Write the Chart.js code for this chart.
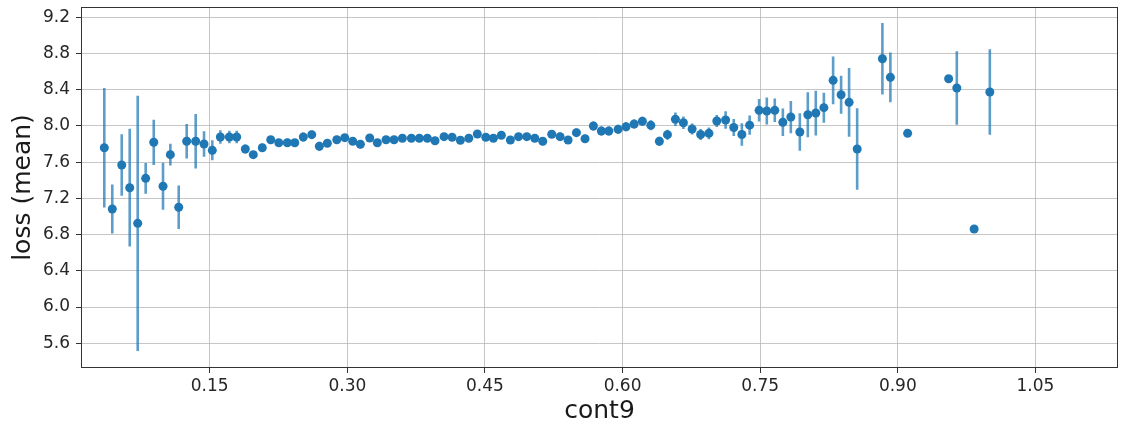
<!DOCTYPE html>
<html>
<head>
<meta charset="utf-8">
<script src="https://cdn.jsdelivr.net/npm/chart.js@4"></script>
<style>
  html, body { margin: 0; padding: 0; background: #fff; }
  #wrap { width: 1124px; height: 431px; }
</style>
</head>
<body>
<div id="wrap"><canvas id="chart" width="1124" height="431"></canvas></div>
<script>
// --- Data ---
const cont9 = [
  0.0351, 0.0438, 0.0541, 0.0628, 0.0715, 0.0802, 0.0890, 0.0991, 0.1071, 0.1162,
  0.1249, 0.1347, 0.1438, 0.1528, 0.1616, 0.1714, 0.1794, 0.1888, 0.1975, 0.2073,
  0.2165, 0.2253, 0.2346, 0.2427, 0.2520, 0.2612, 0.2695, 0.2782, 0.2885, 0.2972,
  0.3059, 0.3142, 0.3244, 0.3327, 0.3422, 0.3509, 0.3600, 0.3698, 0.3785, 0.3872,
  0.3956, 0.4054, 0.4142, 0.4232, 0.4324, 0.4417, 0.4509, 0.4592, 0.4679, 0.4777,
  0.4866, 0.4956, 0.5043, 0.5130, 0.5228, 0.5319, 0.5406, 0.5497, 0.5591, 0.5682,
  0.5769, 0.5850, 0.5951, 0.6038, 0.6126, 0.6216, 0.6308, 0.6401, 0.6489, 0.6576,
  0.6663, 0.6758, 0.6851, 0.6941, 0.7027, 0.7123, 0.7212, 0.7300, 0.7385, 0.7488,
  0.7572, 0.7659, 0.7747, 0.7834, 0.7932, 0.8019, 0.8106, 0.8194, 0.8295, 0.8382,
  0.8469, 0.8557, 0.8832, 0.8919, 0.9107, 0.9554, 0.9643, 0.9832, 1.0003
];
const lossMean = [
  7.760, 7.083, 7.569, 7.318, 6.925, 7.422, 7.820, 7.334, 7.683, 7.102,
  7.831, 7.831, 7.801, 7.731, 7.878, 7.878, 7.878, 7.746, 7.683, 7.760,
  7.848, 7.815, 7.815, 7.815, 7.878, 7.904, 7.776, 7.809, 7.848, 7.871,
  7.831, 7.798, 7.867, 7.815, 7.848, 7.848, 7.864, 7.864, 7.864, 7.864,
  7.837, 7.882, 7.875, 7.842, 7.864, 7.911, 7.875, 7.864, 7.897, 7.845,
  7.882, 7.882, 7.864, 7.831, 7.908, 7.882, 7.845, 7.926, 7.859, 8.000,
  7.944, 7.944, 7.963, 7.992, 8.022, 8.052, 8.007, 7.831, 7.904, 8.074,
  8.036, 7.967, 7.906, 7.919, 8.055, 8.066, 7.983, 7.906, 8.009, 8.173,
  8.165, 8.173, 8.041, 8.099, 7.933, 8.124, 8.143, 8.202, 8.504, 8.345,
  8.261, 7.746, 8.743, 8.537, 7.919, 8.522, 8.419, 6.862, 8.375
];
// half-length of each error bar (0 = single sample, no bar)
const lossErr = [
  0.66, 0.27, 0.34, 0.65, 1.41, 0.17, 0.25, 0.26, 0.12, 0.24,
  0.19, 0.30, 0.14, 0.11, 0.075, 0.07, 0.07, 0.05, 0.04, 0.045,
  0.04, 0.04, 0.045, 0.04, 0.05, 0.045, 0.05, 0.04, 0.045, 0.04,
  0.04, 0.045, 0.04, 0.04, 0.04, 0.04, 0.04, 0.04, 0.04, 0.04,
  0.04, 0.04, 0.04, 0.04, 0.04, 0.04, 0.04, 0.04, 0.04, 0.045,
  0.04, 0.04, 0.04, 0.045, 0.04, 0.045, 0.045, 0.045, 0.045, 0.05,
  0.05, 0.05, 0.05, 0.05, 0.05, 0.05, 0.055, 0.05, 0.055, 0.075,
  0.07, 0.06, 0.06, 0.065, 0.065, 0.096, 0.095, 0.125, 0.107, 0.124,
  0.15, 0.13, 0.153, 0.178, 0.208, 0.248, 0.247, 0.166, 0.263, 0.21,
  0.38, 0.45, 0.394, 0.275, 0, 0, 0.406, 0, 0.473
];
const xTicks = [0.15, 0.30, 0.45, 0.60, 0.75, 0.90, 1.05];
const yTicks = [5.6, 6.0, 6.4, 6.8, 7.2, 7.6, 8.0, 8.4, 8.8, 9.2];

const BLUE = '#1f77b4';
const FONT = "'DejaVu Sans', sans-serif";

// --- Plugins ---
// vertical error bars, drawn under the markers
const errorBars = {
  id: 'errorBars',
  beforeDatasetsDraw(chart) {
    const { ctx, chartArea: a, scales: { x, y } } = chart;
    ctx.save();
    ctx.beginPath();
    ctx.rect(a.left, a.top, a.right - a.left, a.bottom - a.top);
    ctx.clip();
    ctx.strokeStyle = 'rgba(31, 119, 180, 0.72)';
    ctx.lineWidth = 2.6;
    ctx.beginPath();
    cont9.forEach((v, i) => {
      if (!lossErr[i]) return;
      const px = x.getPixelForValue(v);
      ctx.moveTo(px, y.getPixelForValue(lossMean[i] + lossErr[i]));
      ctx.lineTo(px, y.getPixelForValue(lossMean[i] - lossErr[i]));
    });
    ctx.stroke();
    ctx.restore();
  }
};

// box around the plot area (all four spines)
const frame = {
  id: 'frame',
  afterDraw(chart) {
    const { ctx, chartArea: a } = chart;
    ctx.save();
    ctx.strokeStyle = '#333';
    ctx.lineWidth = 1;
    ctx.strokeRect(a.left + 0.5, a.top + 0.5, a.right - a.left - 1, a.bottom - a.top - 1);
    ctx.restore();
  }
};

// --- Chart ---
new Chart(document.getElementById('chart'), {
  type: 'scatter',
  data: {
    datasets: [{
      label: 'loss (mean)',
      data: cont9.map((v, i) => ({ x: v, y: lossMean[i] })),
      backgroundColor: BLUE,
      borderWidth: 0,
      pointRadius: 4.5,
      pointHoverRadius: 4.5
    }]
  },
  options: {
    responsive: false,
    animation: false,
    devicePixelRatio: 1,
    layout: { padding: { top: 7, right: 6, left: 0, bottom: 0 } },
    plugins: { legend: { display: false }, tooltip: { enabled: false } },
    scales: {
      x: {
        type: 'linear',
        min: 0.0097,
        max: 1.140,
        afterBuildTicks: (s) => { s.ticks = xTicks.map(v => ({ value: v })); },
        afterFit: (s) => { s.height = 63; s.paddingLeft = 0; s.paddingRight = 0; },
        ticks: {
          callback: (v) => Number(v).toFixed(2),
          color: '#262626',
          font: { family: FONT, size: 17 },
          padding: 3,
          maxRotation: 0,
          autoSkip: false
        },
        grid: { color: '#b8b8b8', lineWidth: 0.8, tickLength: 5, tickColor: '#333', tickWidth: 1 },
        border: { display: false },
        title: {
          display: true,
          text: 'cont9',
          color: '#1a1a1a',
          font: { family: FONT, size: 25 },
          padding: { top: 0, bottom: 5 }
        }
      },
      y: {
        type: 'linear',
        min: 5.327,
        max: 9.314,
        afterBuildTicks: (s) => { s.ticks = yTicks.map(v => ({ value: v })); },
        afterFit: (s) => { s.width = 81; s.paddingTop = 0; s.paddingBottom = 0; },
        ticks: {
          callback: (v) => Number(v).toFixed(1),
          color: '#262626',
          font: { family: FONT, size: 17 },
          padding: 6,
          autoSkip: false
        },
        grid: { color: '#b8b8b8', lineWidth: 0.8, tickLength: 5, tickColor: '#333', tickWidth: 1 },
        border: { display: false },
        title: {
          display: true,
          text: 'loss (mean)',
          color: '#1a1a1a',
          font: { family: FONT, size: 25 },
          padding: { top: 8, bottom: 0 }
        }
      }
    }
  },
  plugins: [errorBars, frame]
});
</script>
</body>
</html>
